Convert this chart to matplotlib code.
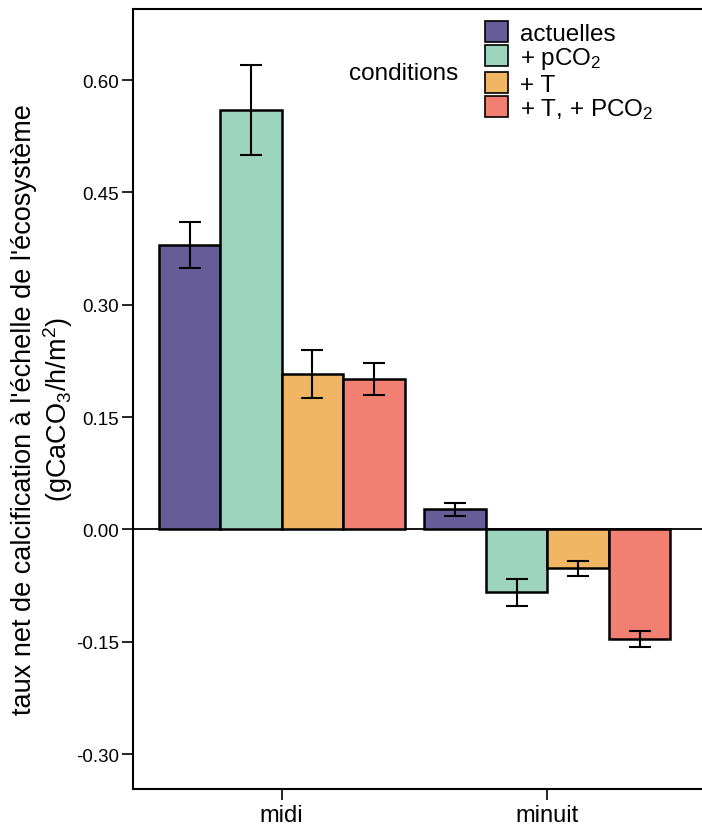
# -*- coding: utf-8 -*-

import numpy as np
import matplotlib
matplotlib.use('Agg')
import matplotlib.pyplot as plt
from matplotlib.patches import Patch

# global plotting options
plt.rcParams['font.family'] = ['Liberation Sans', 'DejaVu Sans']
plt.rcParams['mathtext.fontset'] = 'custom'
plt.rcParams['mathtext.rm'] = 'Liberation Sans'
plt.rcParams['mathtext.default'] = 'regular'

# data
periods = ['midi', 'minuit']
conditions = ['actuelles', '+ pCO$_2$', '+ T', '+ T, + PCO$_2$']
colors = ['#655c98', '#9dd4be', '#f0b664', '#f28072']

# rows = conditions, columns = periods
values = [[0.380, 0.027],
          [0.560, -0.084],
          [0.208, -0.052],
          [0.201, -0.146]]
errors = [[0.031, 0.009],
          [0.060, 0.018],
          [0.032, 0.010],
          [0.021, 0.011]]

yticks = [-0.30, -0.15, 0.00, 0.15, 0.30, 0.45, 0.60]

# %% figure
fig = plt.figure(figsize=(7.02, 8.28), dpi=100)
ax = fig.add_axes([133 / 702, 1 - 790 / 828, 1 - 133 / 702 + 0.01, 780 / 828])

x = np.arange(len(periods))
w = 62 / 268

for i, cond in enumerate(conditions):
    ax.bar(x + (i - 1.5) * w, values[i], width=w, color=colors[i],
           edgecolor='k', linewidth=1.8, label=cond, zorder=2)
    ax.errorbar(x + (i - 1.5) * w, values[i], yerr=errors[i], fmt='none',
                ecolor='k', elinewidth=1.5, capsize=8, capthick=1.5, zorder=3)

ax.axhline(0, color='k', linewidth=1.3, zorder=1)

ax.set_xlim((131 - 281) / 268, (712 - 281) / 268)
ax.set_ylim(-0.3464, 0.6948)
ax.set_xticks(x)
ax.set_xticklabels(periods, fontsize=17)
ax.set_yticks(yticks)
ax.set_yticklabels(['%.2f' % t for t in yticks], fontsize=13.5)
ax.tick_params(axis='both', direction='out', length=8, width=1.2,
               color='k', pad=3)
ax.tick_params(axis='y', pad=2)

for s in ['left', 'bottom', 'top']:
    ax.spines[s].set_linewidth(1.5)
ax.spines['right'].set_visible(False)

fig.text(43 / 702, 1 - 410 / 828,
         "taux net de calcification à l'échelle de l'écosystème\n"
         "(gCaCO$_3$/h/m$^2$)",
         rotation=90, ha='center', va='center', multialignment='center',
         fontsize=19.5)

# legend
handles = [Patch(facecolor=c, edgecolor='k', linewidth=1.2) for c in colors]
fig.legend(handles, conditions, loc='upper left',
           bbox_to_anchor=(485 / 702, 1 - 22 / 828), frameon=False,
           fontsize=17.5, handlelength=0.95, handleheight=0.95,
           handletextpad=0.5, labelspacing=0.02, borderpad=0,
           borderaxespad=0)
fig.text(404 / 702, 1 - 74 / 828, 'conditions', ha='center', va='center',
         fontsize=17.5)

fig.savefig('out.png', dpi=100)
